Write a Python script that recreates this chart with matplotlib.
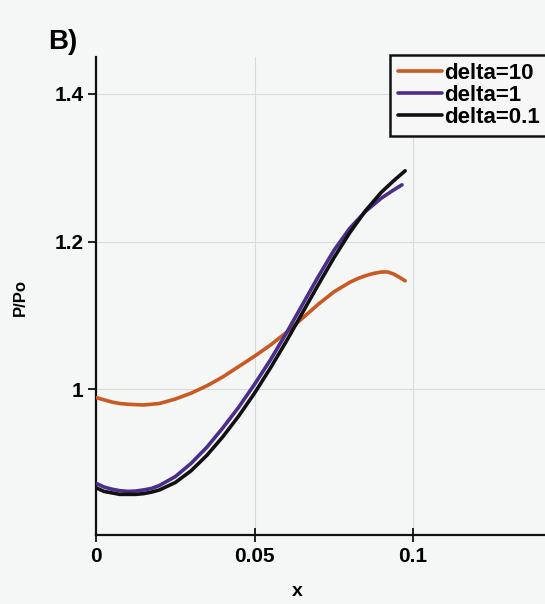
import matplotlib
matplotlib.use("Agg")
import matplotlib.pyplot as plt

plt.rcParams['font.family'] = ['Liberation Sans', 'DejaVu Sans']
plt.rcParams['font.weight'] = 'bold'

# Pressure ratio profiles along x for three delta values
x_d10 = [0.0, 0.0025, 0.005, 0.0075, 0.01, 0.0125, 0.015, 0.0175, 0.02, 0.025, 0.03,
         0.035, 0.04, 0.045, 0.05, 0.055, 0.06, 0.065, 0.07, 0.075, 0.08, 0.0825,
         0.085, 0.0875, 0.09, 0.092, 0.094, 0.096, 0.0975]
p_d10 = [0.989, 0.986, 0.983, 0.981, 0.980, 0.9795, 0.979, 0.980, 0.981, 0.987, 0.995,
         1.005, 1.017, 1.031, 1.045, 1.060, 1.077, 1.096, 1.115, 1.132, 1.145, 1.150,
         1.154, 1.157, 1.159, 1.159, 1.156, 1.151, 1.147]

x_d1 = [0.0, 0.0025, 0.005, 0.0075, 0.01, 0.0125, 0.015, 0.0175, 0.02, 0.025, 0.03,
        0.035, 0.04, 0.045, 0.05, 0.055, 0.06, 0.065, 0.07, 0.075, 0.08, 0.085,
        0.09, 0.0935, 0.0965]
p_d1 = [0.873, 0.868, 0.865, 0.863, 0.862, 0.8625, 0.864, 0.866, 0.870, 0.882, 0.900,
        0.922, 0.948, 0.976, 1.007, 1.040, 1.076, 1.114, 1.152, 1.188, 1.218, 1.241,
        1.259, 1.269, 1.277]

x_d01 = [0.0, 0.0025, 0.005, 0.0075, 0.01, 0.0125, 0.015, 0.0175, 0.02, 0.025, 0.03,
         0.035, 0.04, 0.045, 0.05, 0.055, 0.06, 0.065, 0.07, 0.075, 0.08, 0.085,
         0.09, 0.094, 0.0975]
p_d01 = [0.867, 0.862, 0.860, 0.858, 0.858, 0.858, 0.859, 0.861, 0.864, 0.874, 0.890,
         0.911, 0.936, 0.964, 0.995, 1.029, 1.065, 1.103, 1.141, 1.178, 1.212, 1.242,
         1.267, 1.283, 1.296]

labels = ['delta=10', 'delta=1', 'delta=0.1']
colors = ['#c85a22', '#4b2d8c', '#111111']

x_ticks = [0, 0.05, 0.1]
x_ticklabels = ['0', '0.05', '0.1']
y_ticks = [1.0, 1.2, 1.4]
y_ticklabels = ['1', '1.2', '1.4']

W, H = 545, 604
fig = plt.figure(figsize=(W / 100, H / 100), dpi=100)
fig.patch.set_facecolor('#f5f6f6')

ax = fig.add_axes([96 / W, 1 - 535 / H, 1 - 96 / W, (535 - 57) / H])
ax.set_facecolor('#f5f6f6')

for xs, ys, lab, col in zip([x_d10, x_d1, x_d01], [p_d10, p_d1, p_d01], labels, colors):
    ax.plot(xs, ys, color=col, lw=2.6, label=lab, solid_capstyle='round',
            solid_joinstyle='round', zorder=3)

ax.set_xlim(0, 0.1416)
ax.set_ylim(0.803, 1.45)
ax.set_xticks(x_ticks)
ax.set_xticklabels(x_ticklabels)
ax.set_yticks(y_ticks)
ax.set_yticklabels(y_ticklabels)
ax.grid(True, color='#dadada', lw=0.8, zorder=0)

for s in ['top', 'right']:
    ax.spines[s].set_visible(False)
for s in ['left', 'bottom']:
    ax.spines[s].set_linewidth(1.6)
    ax.spines[s].set_color('#111111')

ax.tick_params(axis='x', direction='inout', length=10, width=1.2, pad=4, labelsize=15)
ax.tick_params(axis='y', direction='out', length=6, width=1.2, pad=3, labelsize=15)
for t in ax.get_xticklabels() + ax.get_yticklabels():
    t.set_fontweight('bold')

leg = fig.legend(loc='upper left', bbox_to_anchor=(390 / W, 1 - 55 / H),
                 bbox_transform=fig.transFigure, borderaxespad=0,
                 prop={'size': 16, 'weight': 'bold'}, handlelength=2.0,
                 handletextpad=0.1, labelspacing=0.05, borderpad=0.35,
                 fancybox=False, framealpha=1)
leg.get_frame().set_edgecolor('#111111')
leg.get_frame().set_linewidth(1.8)
leg.get_frame().set_facecolor('#f7f7f7')

fig.text(48 / W, 1 - 49 / H, 'B)', fontsize=20, fontweight='bold', va='baseline')
fig.text(20 / W, 1 - 297 / H, 'P/Po', fontsize=12, fontweight='bold',
         rotation=90, ha='center', va='center')
fig.text(297 / W, 1 - 592 / H, 'x', fontsize=14, fontweight='bold',
         ha='center', va='center')

fig.savefig('out.png', dpi=100, facecolor=fig.get_facecolor())
